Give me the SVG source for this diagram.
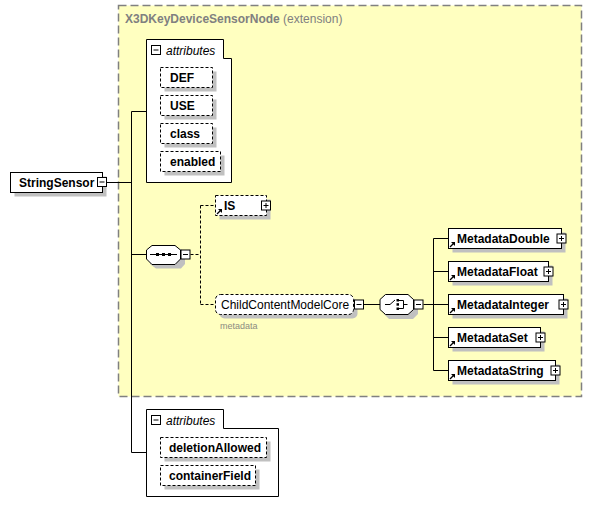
<svg xmlns="http://www.w3.org/2000/svg" width="593" height="516" viewBox="0 0 593 516">
<defs>
<style>
text{font-family:"Liberation Sans",Arial,sans-serif;font-size:12px;fill:#000}
.b{font-weight:bold}
.it{font-style:italic}
.box{fill:#fff;stroke:#000;stroke-width:1}
.opt{fill:#fff;stroke:#000;stroke-width:1;stroke-dasharray:3,2}
.sh{fill:#c0c0c0;stroke:none}
.ln{fill:none;stroke:#000;stroke-width:1}
.dl{fill:none;stroke:#000;stroke-width:1;stroke-dasharray:3,2}
.ic{fill:#fff;stroke:#000;stroke-width:1}
.grp{fill:#fff;stroke:#000;stroke-width:1}
</style>
<g id="minus"><rect x="0.5" y="0.5" width="9" height="9" class="ic"/><path d="M2.5,5H7.5" stroke="#000" stroke-width="1"/></g>
<g id="plus"><rect x="0.5" y="0.5" width="9" height="9" class="ic"/><path d="M2.5,5H7.5M5,2.5V7.5" stroke="#000" stroke-width="1"/></g>
<g id="ref"><path d="M1,8 L5,4" stroke="#000" stroke-width="1.3"/><path d="M6,3 L6,7 L2,3 Z" fill="#000"/></g>
</defs>
<rect width="593" height="516" fill="#fff"/>

<g id="X3DKeyDeviceSensorNode">
<rect x="118.5" y="5.5" width="463" height="391" fill="#ffffc0" stroke="#808080" stroke-width="1.5" stroke-dasharray="8,4"/>
<text x="125" y="23" style="fill:#808080"><tspan class="b">X3DKeyDeviceSensorNode</tspan> (extension)</text>
</g>

<g id="connectors">
<path class="ln" d="M106.5,182.5H131.5M131.5,111.5V452.5M131.5,111.5H146.5M131.5,254.5H146M131.5,452.5H146.5"/>
<path class="dl" d="M190.5,254.5H200.5M200.5,205.5V304.5M200.5,205.5H215.5M200.5,304.5H215.5"/>
<path class="ln" d="M364,304.5H380M423.5,304.5H433.5M433.5,238.5V370.5M433.5,238.5H448.5M433.5,271.5H448.5M433.5,304.5H448.5M433.5,337.5H448.5M433.5,370.5H448.5"/>
</g>

<g id="StringSensor">
<rect x="14.5" y="176.5" width="92" height="20" class="sh"/>
<rect x="10.5" y="172.5" width="92" height="20" class="box"/>
<text x="19" y="187" class="b">StringSensor</text>
<use href="#minus" x="97" y="177"/>
</g>

<g id="attributes1">
<path class="grp" d="M146.5,39.5H223.5V58.5H231.5V182.5H146.5Z"/>
<use href="#minus" x="151" y="45"/>
<text x="166" y="55" class="it">attributes</text>
</g>
<g id="DEF"><rect x="164.5" y="71.5" width="52" height="20" class="sh"/><rect x="160.5" y="67.5" width="52" height="20" class="opt"/><text x="170" y="82" class="b">DEF</text></g>
<g id="USE"><rect x="164.5" y="99.5" width="52" height="20" class="sh"/><rect x="160.5" y="95.5" width="52" height="20" class="opt"/><text x="170" y="110" class="b">USE</text></g>
<g id="class"><rect x="164.5" y="127.5" width="52" height="20" class="sh"/><rect x="160.5" y="123.5" width="52" height="20" class="opt"/><text x="170" y="138" class="b">class</text></g>
<g id="enabled"><rect x="164.5" y="155.5" width="60" height="20" class="sh"/><rect x="160.5" y="151.5" width="60" height="20" class="opt"/><text x="170" y="166" class="b">enabled</text></g>

<g id="sequence">
<path class="sh" d="M156,249H181L185,254V264L181,268.5H156L150,264V254Z"/>
<path class="grp" d="M152,245.5H175L180.5,250V259L175,264.5H152L146.5,259V250Z"/>
<path d="M150,254.5H177" stroke="#000" stroke-width="1"/>
<rect x="156" y="253" width="3" height="3" fill="#000"/>
<rect x="162" y="253" width="3" height="3" fill="#000"/>
<rect x="168" y="253" width="3" height="3" fill="#000"/>
<use href="#minus" x="180.5" y="249.5"/>
</g>

<g id="IS">
<rect x="219.5" y="199.5" width="51" height="20" class="sh"/>
<rect x="215.5" y="195.5" width="51" height="20" class="opt"/>
<use href="#ref" x="216" y="206"/>
<text x="224" y="210" class="b">IS</text>
<use href="#plus" x="261" y="200.5"/>
</g>

<g id="ChildContentModelCore">
<rect x="219.5" y="298.5" width="138" height="20" rx="5" class="sh"/>
<rect x="215.5" y="294.5" width="138" height="20" rx="5" class="opt"/>
<text x="221" y="309">ChildContentModelCore</text>
<use href="#minus" x="354" y="299.5"/>
<text x="220" y="329" style="font-size:9px;fill:#8c8c80">metadata</text>
</g>

<g id="choice">
<path class="sh" d="M389,298.5H413L418,303.5V314L413,319H389L384,314V303.5Z"/>
<path class="grp" d="M385.5,294.5H408L413.5,299.5V309.5L408,314.5H385.5L380,309.5V299.5Z"/>
<path d="M385,304.5H390L395,300" fill="none" stroke="#000" stroke-width="1"/>
<rect x="396.5" y="299" width="2.5" height="2.5" fill="#000"/>
<rect x="396.5" y="303.2" width="2.5" height="2.5" fill="#000"/>
<rect x="396.5" y="307.5" width="2.5" height="2.5" fill="#000"/>
<path d="M399,300.5H403.5V308.5H399M403.5,304.5H407.5" fill="none" stroke="#000" stroke-width="1"/>
<use href="#minus" x="413.5" y="299.5"/>
</g>

<g id="MetadataDouble">
<rect x="452.5" y="232.5" width="113" height="20" class="sh"/>
<rect x="448.5" y="228.5" width="113" height="20" class="box"/>
<use href="#ref" x="449" y="239"/>
<text x="457" y="243" class="b">MetadataDouble</text>
<use href="#plus" x="556.5" y="233.5"/>
</g>
<g id="MetadataFloat">
<rect x="452.5" y="265.5" width="100" height="20" class="sh"/>
<rect x="448.5" y="261.5" width="100" height="20" class="box"/>
<use href="#ref" x="449" y="272"/>
<text x="457" y="276" class="b">MetadataFloat</text>
<use href="#plus" x="543.5" y="266.5"/>
</g>
<g id="MetadataInteger">
<rect x="452.5" y="298.5" width="115" height="20" class="sh"/>
<rect x="448.5" y="294.5" width="115" height="20" class="box"/>
<use href="#ref" x="449" y="305"/>
<text x="457" y="309" class="b">MetadataInteger</text>
<use href="#plus" x="558.5" y="299.5"/>
</g>
<g id="MetadataSet">
<rect x="452.5" y="331.5" width="92" height="20" class="sh"/>
<rect x="448.5" y="327.5" width="92" height="20" class="box"/>
<use href="#ref" x="449" y="338"/>
<text x="457" y="342" class="b">MetadataSet</text>
<use href="#plus" x="535.5" y="332.5"/>
</g>
<g id="MetadataString">
<rect x="452.5" y="364.5" width="107" height="20" class="sh"/>
<rect x="448.5" y="360.5" width="107" height="20" class="box"/>
<use href="#ref" x="449" y="371"/>
<text x="457" y="375" class="b">MetadataString</text>
<use href="#plus" x="550.5" y="365.5"/>
</g>

<g id="attributes2">
<path class="grp" d="M146.5,409.5H223.5V428.5H278.5V496.5H146.5Z"/>
<use href="#minus" x="151" y="415"/>
<text x="166" y="425" class="it">attributes</text>
</g>
<g id="deletionAllowed"><rect x="164.5" y="441.5" width="106" height="20" class="sh"/><rect x="160.5" y="437.5" width="106" height="20" class="opt"/><text x="169" y="452" class="b">deletionAllowed</text></g>
<g id="containerField"><rect x="164.5" y="469.5" width="95" height="20" class="sh"/><rect x="160.5" y="465.5" width="95" height="20" class="opt"/><text x="169" y="480" class="b">containerField</text></g>
</svg>
